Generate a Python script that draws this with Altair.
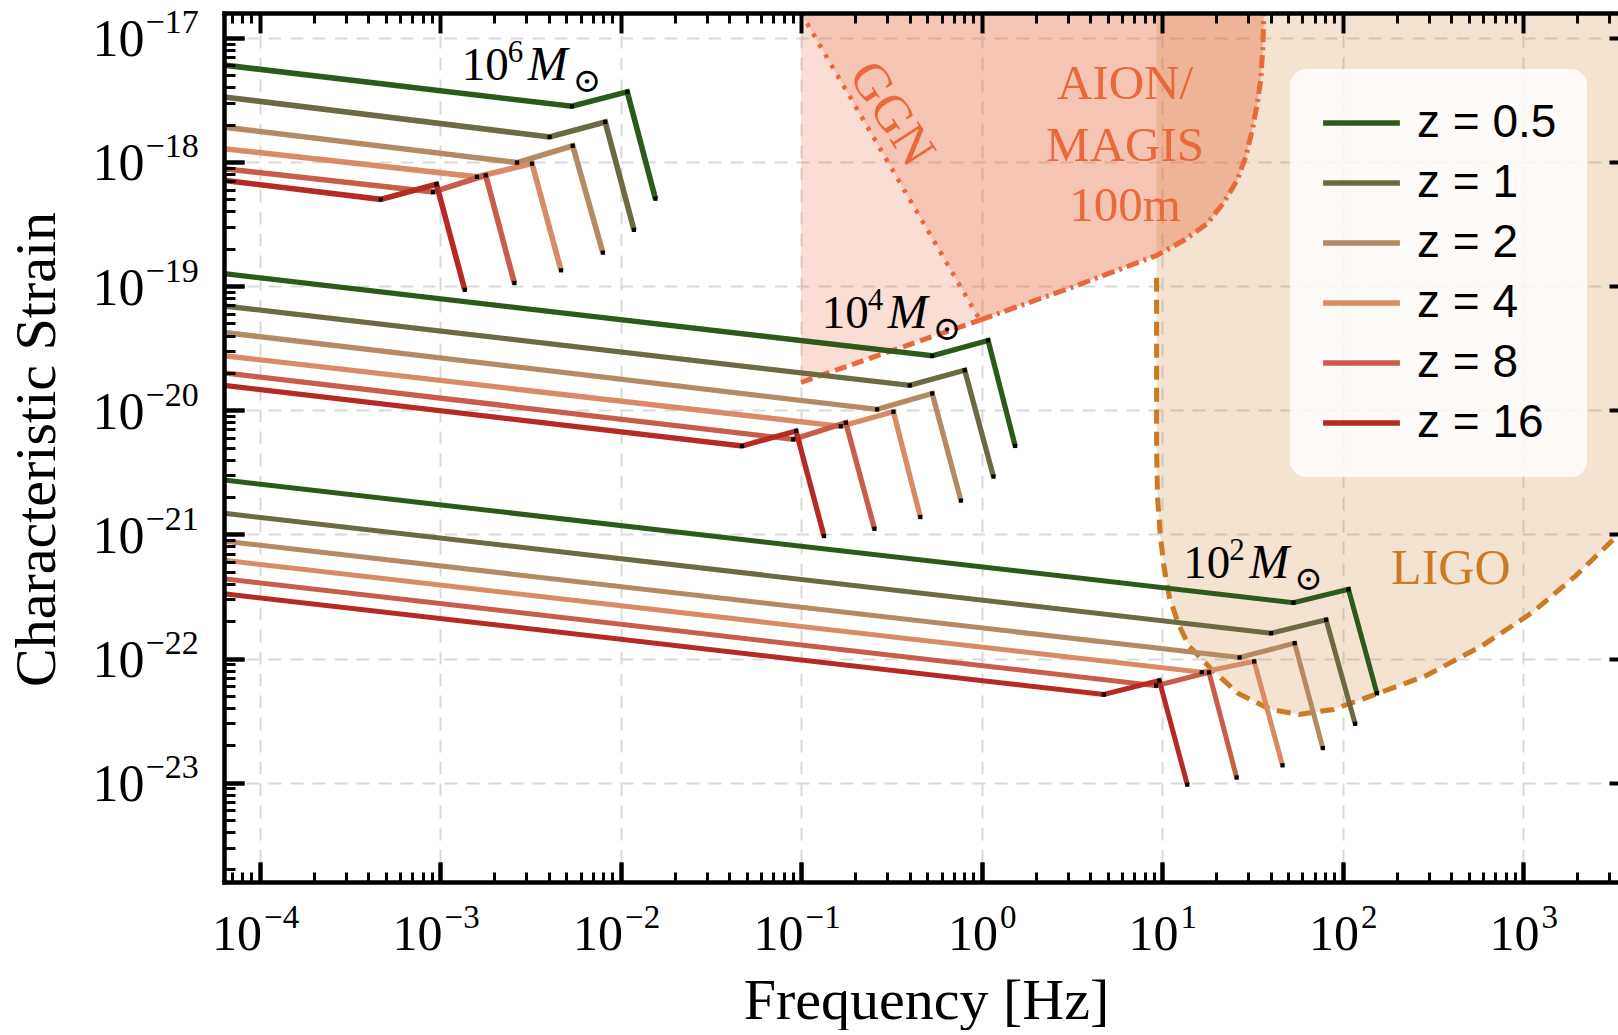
import altair as alt
import pandas as pd

# ---------------- axis ranges / ticks ----------------
F_MIN, F_MAX = 6.35e-5, 3360.0
H_MIN, H_MAX = 1.585e-24, 1.585e-17
PLOT_W, PLOT_H = 1394, 869

X_TICKS_NEG = [1e-4, 1e-3, 1e-2, 1e-1]
X_TICKS_POS = [1e0, 1e1, 1e2, 1e3]
X_TICKS = X_TICKS_NEG + X_TICKS_POS
X_EXP_LABELS = ["−4", "−3", "−2", "−1", "0", "1", "2", "3"]
Y_TICKS = [1e-23, 1e-22, 1e-21, 1e-20, 1e-19, 1e-18, 1e-17]
Y_EXP_LABELS = ["−23", "−22", "−21", "−20", "−19", "−18", "−17"]
X_MINOR = [k * 10.0 ** d for d in range(-5, 4) for k in range(2, 10) if F_MIN <= k * 10.0 ** d <= F_MAX]
Y_MINOR = [k * 10.0 ** d for d in range(-24, -16) for k in range(2, 10) if H_MIN <= k * 10.0 ** d <= H_MAX]

# ---------------- signal curves ----------------
Z_LABELS = ["z = 0.5", "z = 1", "z = 2", "z = 4", "z = 8", "z = 16"]
Z_COLORS = ["#2d5a1b", "#6b6a43", "#b48a62", "#d88b64", "#c85e4a", "#b52a22"]
MASSES = ["1e6", "1e4", "1e2"]
MASS_WIDTHS = [5.6, 5.0, 4.6]
F_START = 6.35e-5

M6_START_H = [6.03e-18, 3.34e-18, 1.91e-18, 1.28e-18, 8.83e-19, 7.11e-19]
M6_BREAK_F = [5.37e-3, 4.04e-3, 2.67e-3, 1.60e-3, 9.14e-4, 4.68e-4]
M6_BREAK_H = [2.81e-18, 1.59e-18, 9.89e-19, 7.59e-19, 5.73e-19, 5.00e-19]
M6_PEAK_F = [1.089e-2, 8.22e-3, 5.43e-3, 3.23e-3, 1.79e-3, 9.55e-4]
M6_PEAK_H = [3.67e-18, 2.10e-18, 1.35e-18, 9.70e-19, 7.80e-19, 6.61e-19]
M6_END_F = [1.560e-2, 1.186e-2, 7.98e-3, 4.68e-3, 2.58e-3, 1.37e-3]
M6_END_H = [5.06e-19, 2.84e-19, 1.86e-19, 1.34e-19, 1.06e-19, 9.33e-20]

M4_START_H = [1.26e-19, 6.92e-20, 4.23e-20, 2.75e-20, 2.00e-20, 1.585e-20]
M4_BREAK_F = [0.533, 0.400, 0.264, 0.166, 0.0906, 0.0471]
M4_BREAK_H = [2.75e-20, 1.585e-20, 1.016e-20, 7.43e-21, 5.83e-21, 5.16e-21]
M4_PEAK_F = [1.087, 0.807, 0.533, 0.325, 0.177, 0.0938]
M4_PEAK_H = [3.65e-20, 2.10e-20, 1.365e-20, 9.72e-21, 7.94e-21, 6.81e-21]
M4_END_F = [1.535, 1.164, 0.769, 0.458, 0.255, 0.134]
M4_END_H = [5.16e-21, 2.92e-21, 1.87e-21, 1.38e-21, 1.11e-21, 9.70e-22]

M2_START_H = [2.74e-21, 1.48e-21, 8.83e-22, 6.18e-22, 4.39e-22, 3.32e-22]
M2_BREAK_F = [53.5, 40.2, 26.9, 16.6, 9.27, 4.76]
M2_BREAK_H = [2.82e-22, 1.60e-22, 1.02e-22, 7.76e-23, 6.05e-23, 5.13e-23]
M2_PEAK_F = [107.9, 81.1, 54.3, 32.4, 18.2, 9.66]
M2_PEAK_H = [3.61e-22, 2.05e-22, 1.33e-22, 9.48e-23, 7.74e-23, 6.64e-23]
M2_END_F = [155.2, 117.5, 77.8, 46.5, 25.9, 13.8]
M2_END_H = [5.25e-23, 2.98e-23, 1.90e-23, 1.38e-23, 1.10e-23, 9.64e-24]

# ---------------- detector curves ----------------
AION_COLOR = "#e8693a"
LIGO_COLOR = "#cc7a24"
AION_DASH_F = [0.1, 0.98]
AION_DASH_H = [1.68e-20, 5.33e-20]
AION_F = [0.98, 3.16, 9.38, 13.2, 17.8, 21.9, 26.1, 29.2, 31.6, 33.6, 35.2, 36.1, 36.7]
AION_H = [5.33e-20, 9.77e-20, 1.77e-19, 2.34e-19, 3.19e-19, 4.68e-19, 7.13e-19,
          1.12e-18, 1.80e-18, 2.88e-18, 4.54e-18, 7.94e-18, 1.585e-17]
GGN_F = [0.1, 0.98]
GGN_H = [1.585e-17, 5.33e-20]
LIGO_F = [9.33, 9.33, 9.44, 9.77, 10.23, 10.96, 12.3, 14.1, 18.6, 26.3, 39.8, 57.5,
          89.1, 151, 288, 589, 1122, 1950, 3388]
LIGO_H = [1.17e-19, 5.01e-21, 2.0e-21, 1.0e-21, 5.62e-22, 3.16e-22, 1.91e-22, 1.26e-22,
          8.32e-23, 5.25e-23, 3.89e-23, 3.55e-23, 3.89e-23, 5.13e-23, 7.24e-23, 1.26e-22,
          2.34e-22, 4.62e-22, 1.0e-21]

# ---------------- annotations ----------------
MASS_EXP = ["6", "4", "2"]
MASS_TEXT_F = [1.318e-3, 0.1303, 13.12]
MASS_TEXT_H = [4.60e-18, 4.61e-20, 4.48e-22]
AION_TEXT = ["AION/", "MAGIS", "100m"]
AION_TEXT_F = [6.24, 6.24, 6.24]
AION_TEXT_H = [4.28e-18, 1.34e-18, 4.40e-19]
GGN_TEXT_F, GGN_TEXT_H = [0.318], [2.45e-18]
LIGO_TEXT_F, LIGO_TEXT_H = [398.0], [5.31e-22]

# ---------------- build tables ----------------
rows = []
groups = [
    ("1e6", M6_START_H, M6_BREAK_F, M6_BREAK_H, M6_PEAK_F, M6_PEAK_H, M6_END_F, M6_END_H),
    ("1e4", M4_START_H, M4_BREAK_F, M4_BREAK_H, M4_PEAK_F, M4_PEAK_H, M4_END_F, M4_END_H),
    ("1e2", M2_START_H, M2_BREAK_F, M2_BREAK_H, M2_PEAK_F, M2_PEAK_H, M2_END_F, M2_END_H),
]
for mass, sh, bf, bh, pf, ph, ef, eh in groups:
    for i, z in enumerate(Z_LABELS):
        pts = [(F_START, sh[i]), (bf[i], bh[i]), (pf[i], ph[i]), (ef[i], eh[i])]
        for k, (f, h) in enumerate(pts):
            rows.append(dict(mass=mass, z=z, order=k, f=f, h=h, line=f"{mass}|{z}"))
sig = pd.DataFrame(rows)


def curve_df(fs, hs):
    return pd.DataFrame({"f": fs, "h": hs, "i": list(range(len(fs))), "top": [H_MAX] * len(fs)})


aion_dash = curve_df(AION_DASH_F, AION_DASH_H)
aion_dd = curve_df(AION_F, AION_H)
ggn = curve_df(GGN_F, GGN_H)
ligo = curve_df(LIGO_F, LIGO_H)
aion_light = curve_df(AION_DASH_F + AION_F[1:], AION_DASH_H + AION_H[1:])
aion_dark = curve_df(GGN_F + AION_F[1:], GGN_H + AION_H[1:])

mass_df = pd.DataFrame({"e": MASS_EXP, "f": MASS_TEXT_F, "h": MASS_TEXT_H})
aion_txt = pd.DataFrame({"t": AION_TEXT, "f": AION_TEXT_F, "h": AION_TEXT_H})
ggn_txt = pd.DataFrame({"t": ["GGN"], "f": GGN_TEXT_F, "h": GGN_TEXT_H})
ligo_txt = pd.DataFrame({"t": ["LIGO"], "f": LIGO_TEXT_F, "h": LIGO_TEXT_H})

XS = alt.Scale(type="log", domain=[F_MIN, F_MAX], nice=False)
YS = alt.Scale(type="log", domain=[H_MIN, H_MAX], nice=False)
SERIF = "Liberation Serif"


def X(axis=None):
    return alt.X("f:Q", scale=XS, axis=axis, title=None)


def Y(axis=None):
    return alt.Y("h:Q", scale=YS, axis=axis, title=None)


# ---------------- layers ----------------
fill_ligo = alt.Chart(ligo).mark_area(fill=LIGO_COLOR, fillOpacity=0.21).encode(
    x=X(), y=Y(), y2=alt.Y2("top"))
fill_aion1 = alt.Chart(aion_light).mark_area(fill=AION_COLOR, fillOpacity=0.22).encode(
    x=X(), y=Y(), y2=alt.Y2("top"))
fill_aion2 = alt.Chart(aion_dark).mark_area(fill=AION_COLOR, fillOpacity=0.22).encode(
    x=X(), y=Y(), y2=alt.Y2("top"))

line_aion_dash = alt.Chart(aion_dash).mark_line(color=AION_COLOR, strokeWidth=5, strokeDash=[12, 6], clip=True).encode(
    x=X(), y=Y(), order="i:Q")
line_aion_dd = alt.Chart(aion_dd).mark_line(color=AION_COLOR, strokeWidth=5, strokeDash=[13, 5, 3, 5], clip=True).encode(
    x=X(), y=Y(), order="i:Q")
line_ggn = alt.Chart(ggn).mark_line(color=AION_COLOR, strokeWidth=4.5, strokeDash=[4, 8], clip=True).encode(
    x=X(), y=Y(), order="i:Q")
line_ligo = alt.Chart(ligo).mark_line(color=LIGO_COLOR, strokeWidth=5, strokeDash=[14, 8], clip=True).encode(
    x=X(), y=Y(), order="i:Q")

LEG = alt.Legend(orient="none", legendX=1066, legendY=56, title=None, symbolType="stroke",
                 symbolSize=5900, symbolStrokeWidth=5.5, clipHeight=48, labelFont="Liberation Sans",
                 labelFontSize=46, labelColor="black", labelOffset=14, labelLimit=400, rowPadding=12,
                 padding=30, fillColor="rgba(255,255,255,0.82)", cornerRadius=16)

sig_lines = alt.Chart(sig).mark_line(clip=True, strokeJoin="miter").encode(
    x=X(), y=Y(),
    color=alt.Color("z:N", scale=alt.Scale(domain=Z_LABELS, range=Z_COLORS), legend=LEG),
    size=alt.Size("mass:N", scale=alt.Scale(domain=MASSES, range=MASS_WIDTHS), legend=None),
    detail="line:N", order="order:Q")
sig_marks = alt.Chart(sig).transform_filter(alt.datum.order > 0).mark_point(
    shape="square", size=18, filled=True, color="black", opacity=1, clip=True).encode(x=X(), y=Y())

t_ten = alt.Chart(mass_df).mark_text(font=SERIF, fontSize=47, align="left", baseline="alphabetic", color="black").encode(
    x=X(), y=Y(), text=alt.value("10"))
t_exp = alt.Chart(mass_df).mark_text(font=SERIF, fontSize=31, align="left", baseline="alphabetic", color="black",
                                     dx=46, dy=-18).encode(x=X(), y=Y(), text="e:N")
t_m = alt.Chart(mass_df).mark_text(font=SERIF, fontSize=48, fontStyle="italic", align="left", baseline="alphabetic",
                                   color="black", dx=66).encode(x=X(), y=Y(), text=alt.value("M"))
t_sun = alt.Chart(mass_df).mark_text(font="DejaVu Serif", fontSize=34, align="left", baseline="alphabetic",
                                     color="black", dx=111, dy=12).encode(x=X(), y=Y(), text=alt.value("⊙"))
t_aion = alt.Chart(aion_txt).mark_text(font=SERIF, fontSize=49, align="center", baseline="middle", color=AION_COLOR).encode(
    x=X(), y=Y(), text="t:N")
t_ggn = alt.Chart(ggn_txt).mark_text(font=SERIF, fontSize=52, align="center", baseline="middle", color=AION_COLOR,
                                     angle=57).encode(x=X(), y=Y(), text="t:N")
t_ligo = alt.Chart(ligo_txt).mark_text(font=SERIF, fontSize=50, align="center", baseline="middle", color=LIGO_COLOR).encode(
    x=X(), y=Y(), text="t:N")

# ---------------- axes (inward ticks on all sides, "10" + exponent labels) ----------------
x_exp_expr = "[" + ",".join(f"'{s}'" for s in X_EXP_LABELS) + "][round(log(datum.value)/LN10)+4]"
y_exp_expr = "[" + ",".join(f"'{s}'" for s in Y_EXP_LABELS) + "][round(log(datum.value)/LN10)+23]"


def tick_axis(orient, size, width, values, **kw):
    return alt.Axis(orient=orient, offset=-size, ticks=True, tickSize=size, tickWidth=width, tickColor="black",
                    values=values, labels=False, domain=False, grid=False, zindex=1, **kw)


def label_axis(orient, values, expr, font_size, align, padding, offset, **kw):
    return alt.Axis(orient=orient, offset=-20, ticks=True, tickSize=20, tickWidth=4, tickColor="black",
                    values=values, labels=True, labelExpr=expr, labelFont=SERIF, labelFontSize=font_size,
                    labelColor="black", labelAlign=align, labelBaseline="alphabetic", labelPadding=padding,
                    labelOffset=offset, labelFlush=False, labelOverlap=False, domain=False, grid=False,
                    zindex=1, **kw)


def bare_axis(orient, **kw):
    return alt.Axis(orient=orient, ticks=False, labels=False, **kw)


TITLE_KW = dict(titleFont=SERIF, titleFontSize=58, titleFontWeight="normal", titleColor="black",
                titleBaseline="alphabetic")

ax_x_ten_neg = label_axis("bottom", X_TICKS_NEG, "'10'", 50, "right", 67, 2,
                          title="Frequency [Hz]", titleX=702, titleY=156, **TITLE_KW)
ax_x_ten_pos = label_axis("bottom", X_TICKS_POS, "'10'", 50, "right", 67, 16)
ax_x_exp_neg = label_axis("bottom", X_TICKS_NEG, x_exp_expr, 33, "left", 45, 4)
ax_x_exp_pos = label_axis("bottom", X_TICKS_POS, x_exp_expr, 33, "left", 45, 18)
ax_y_ten = label_axis("left", Y_TICKS, "'10'", 52, "right", 80, 18,
                      title="Characteristic Strain", titleX=-190, titleY=436, titleAngle=270, **TITLE_KW)
ax_y_exp = label_axis("left", Y_TICKS, y_exp_expr, 34, "left", 79, -5)

host_df = pd.DataFrame({"f": [1.0], "h": [1e-20]})


def host(xa, ya):
    return alt.Chart(host_df).mark_point(opacity=0).encode(x=X(xa), y=Y(ya))


SPINE = dict(domain=True, domainColor="black", domainWidth=4.5, domainCap="square", grid=False, zindex=1)
GRID = dict(domain=False, grid=True, gridColor="#d9d9d9", gridWidth=2, gridDash=[13, 9], zindex=0)

hosts = [
    host(ax_x_ten_neg, ax_y_ten),
    host(ax_x_ten_pos, ax_y_exp),
    host(ax_x_exp_neg, tick_axis("left", 11, 3, Y_MINOR)),
    host(ax_x_exp_pos, tick_axis("right", 9, 4, Y_TICKS)),
    host(tick_axis("bottom", 10, 3, X_MINOR), bare_axis("left", **SPINE)),
    host(tick_axis("top", 20, 4, X_TICKS), bare_axis("left", values=Y_TICKS, **GRID)),
    host(tick_axis("top", 10, 3, X_MINOR), None),
    host(bare_axis("bottom", **SPINE), None),
    host(bare_axis("top", **SPINE), None),
    host(bare_axis("bottom", values=X_TICKS, **GRID), None),
]

chart = alt.layer(
    fill_ligo, fill_aion1, fill_aion2,
    line_aion_dash, line_aion_dd, line_ggn, line_ligo,
    sig_lines, sig_marks,
    t_ten, t_exp, t_m, t_sun, t_aion, t_ggn, t_ligo,
    *hosts,
).resolve_scale(x="shared", y="shared").resolve_axis(x="independent", y="independent").properties(
    width=PLOT_W, height=PLOT_H,
    autosize=alt.AutoSizeParams(type="none"),
    padding={"left": 224, "top": 13, "right": 0, "bottom": 148},
).configure_view(stroke=None).configure(background="white")

chart.save("out.html", embed_options={"renderer": "svg", "actions": False})
